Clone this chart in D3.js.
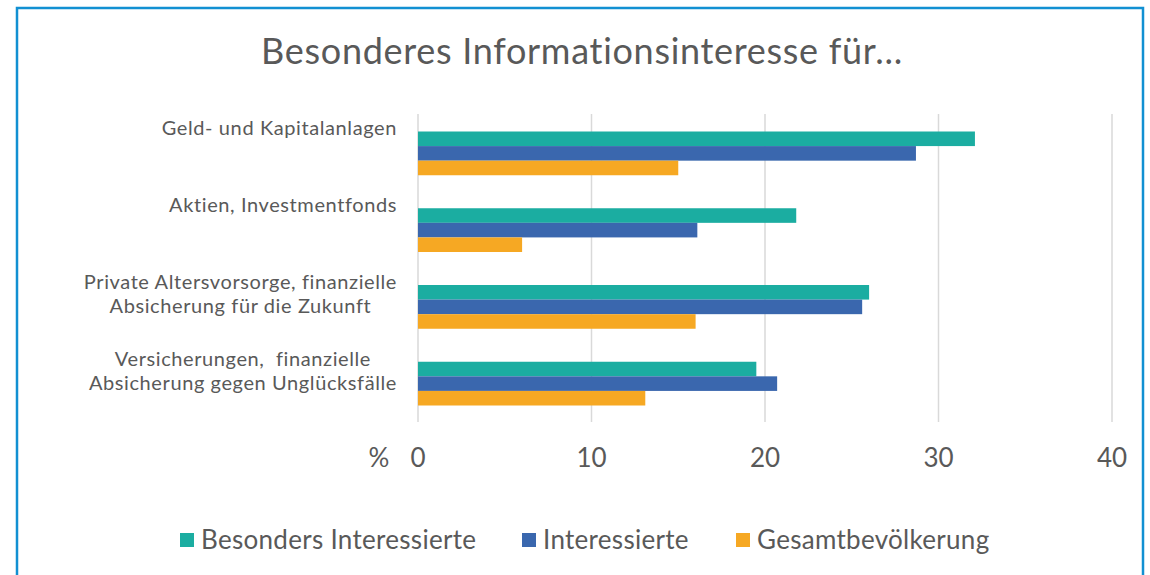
<!DOCTYPE html>
<html>
<head>
<meta charset="utf-8">
<script src="https://cdn.jsdelivr.net/npm/d3@7"></script>
<style>
  body { margin: 0; background: #fff; }
  text { font-family: Lato, "Open Sans", sans-serif; fill: #595959; white-space: pre; }
</style>
</head>
<body>
<script>
// chart size
var width = 1150;
var height = 575;

// data
var categories = [
  ["Geld- und Kapitalanlagen"],
  ["Aktien, Investmentfonds"],
  ["Private Altersvorsorge, finanzielle", "Absicherung für die Zukunft"],
  ["Versicherungen,  finanzielle", "Absicherung gegen Unglücksfälle"]
];
var seriesNames = ["Besonders Interessierte", "Interessierte", "Gesamtbevölkerung"];
var besondersInteressierte = [32.1, 21.8, 26.0, 19.5];
var interessierte = [28.7, 16.1, 25.6, 20.7];
var gesamtbevoelkerung = [15.0, 6.0, 16.0, 13.1];
var xTicks = [0, 10, 20, 30, 40];
var colors = ["#1badA1", "#3a67ae", "#f6a823"];

var seriesValues = [besondersInteressierte, interessierte, gesamtbevoelkerung];

var svg = d3.select("body").append("svg")
  .attr("width", width)
  .attr("height", height);

// frame
svg.append("rect")
  .attr("x", 17).attr("y", 8)
  .attr("width", 1126).attr("height", 600)
  .attr("fill", "none")
  .attr("stroke", "#1190d2")
  .attr("stroke-width", 2.5);

// title
svg.append("text")
  .attr("x", 582).attr("y", 64)
  .attr("text-anchor", "middle")
  .style("font-size", "36px")
  .style("letter-spacing", "0.7px")
  .text("Besonderes Informationsinteresse für…");

var x = d3.scaleLinear().domain([0, 40]).range([418, 1112]);
var y = d3.scaleBand().domain(d3.range(categories.length)).range([115, 422]).paddingInner(0.43).paddingOuter(0.215);
var ySub = d3.scaleBand().domain(d3.range(seriesNames.length)).range([0, y.bandwidth()]);

// gridlines
svg.append("g").selectAll("line")
  .data(xTicks)
  .join("line")
  .attr("x1", d => x(d)).attr("x2", d => x(d))
  .attr("y1", 114).attr("y2", 422)
  .attr("stroke", "#d9d9d9")
  .attr("stroke-width", 1.5);

// tick labels
svg.append("g").selectAll("text")
  .data(xTicks)
  .join("text")
  .attr("x", d => x(d)).attr("y", 467)
  .attr("text-anchor", "middle")
  .style("font-size", "26px")
  .text(d => d);

svg.append("text")
  .attr("x", 379).attr("y", 467)
  .attr("text-anchor", "middle")
  .style("font-size", "26px")
  .text("%");

// bars
var groups = svg.append("g").selectAll("g")
  .data(seriesValues)
  .join("g")
  .attr("fill", (d, i) => colors[i]);

groups.each(function(vals, si) {
  d3.select(this).selectAll("rect")
    .data(vals)
    .join("rect")
    .attr("x", x(0))
    .attr("y", (d, ci) => y(ci) + ySub(si))
    .attr("width", d => x(d) - x(0))
    .attr("height", ySub.bandwidth());
});

// category labels, lines centred within the label block, block right-aligned
var labels = svg.append("g").selectAll("g")
  .data(categories)
  .join("g");

labels.each(function(lines, ci) {
  var g = d3.select(this);
  var texts = g.selectAll("text")
    .data(lines)
    .join("text")
    .attr("y", (d, li) => y(ci) + y.bandwidth() / 2 - 18 + li * 24)
    .attr("text-anchor", "middle")
    .style("font-size", "20px")
    .style("letter-spacing", "0.6px")
    .text(d => d);
  var maxW = d3.max(texts.nodes(), n => n.getComputedTextLength());
  texts.attr("x", 397 - maxW / 2);
});

// legend
var legendX = [180, 522, 736];
var legend = svg.append("g").selectAll("g")
  .data(seriesNames)
  .join("g")
  .attr("transform", (d, i) => "translate(" + legendX[i] + ",0)");

legend.append("rect")
  .attr("x", 0).attr("y", 533)
  .attr("width", 14).attr("height", 14)
  .attr("fill", (d, i) => colors[i]);

legend.append("text")
  .attr("x", 21).attr("y", 549)
  .style("font-size", "26px")
  .style("letter-spacing", "0.3px")
  .text(d => d);
</script>
</body>
</html>
